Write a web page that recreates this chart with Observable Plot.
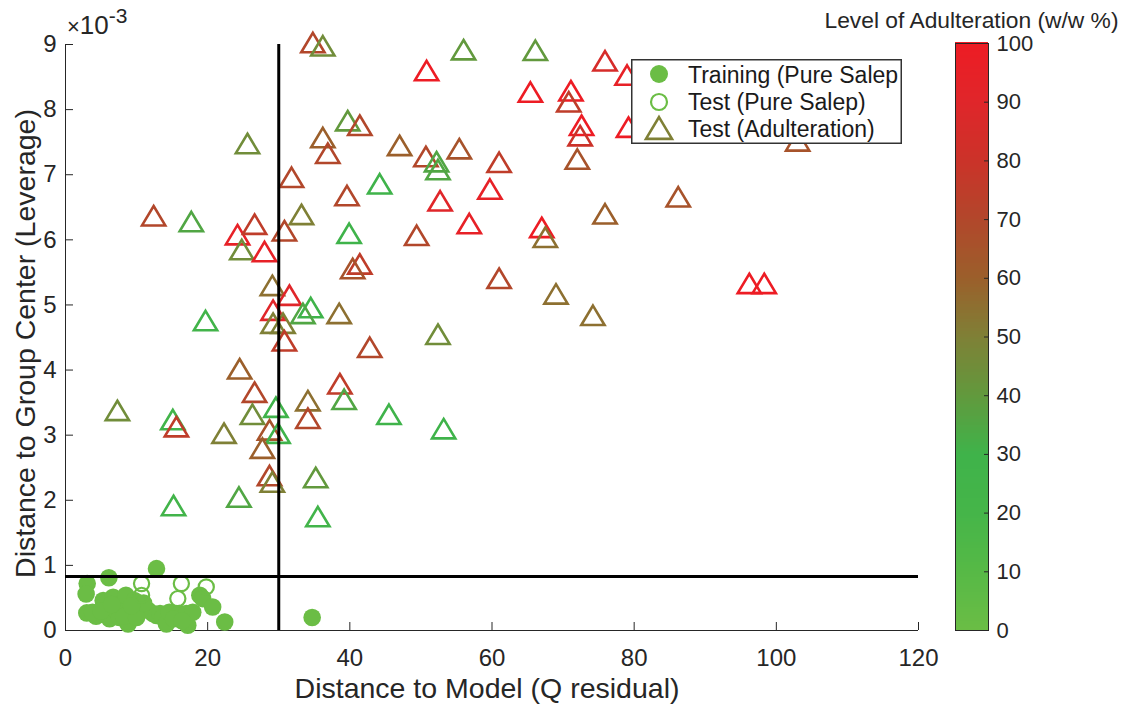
<!DOCTYPE html>
<html><head><meta charset="utf-8">
<script src="https://cdn.jsdelivr.net/npm/d3@7"></script>
<script src="https://cdn.jsdelivr.net/npm/@observablehq/plot@0.6"></script>
<style>
body{margin:0;background:#fff;}
#wrap{position:relative;width:1123px;height:704px;overflow:hidden;font-family:"Liberation Sans",Arial,Helvetica,sans-serif;color:#262626;background:#fff;}
#wrap svg{position:absolute;overflow:visible;}
.abs{position:absolute;white-space:nowrap;}
</style></head><body><div id="wrap"></div>
<script>
// ---- data ----
const xTicks = [0, 20, 40, 60, 80, 100, 120];
const yTicks = [0, 1, 2, 3, 4, 5, 6, 7, 8, 9];
const colorTicks = [0, 10, 20, 30, 40, 50, 60, 70, 80, 90, 100];
const colorStops = [0, 10, 20, 30, 40, 50, 60, 70, 80, 90, 100];
const colorStopColors = ["#6bbd45", "#56b946", "#45b549", "#3fb34a", "#62993d", "#7f8036", "#9b5f2b", "#b2472b", "#cb3229", "#e0262a", "#ed1c24"];
const qLimit = 30;
const leverageLimit = 0.83;

const trainX = [12.8,6.1,3.05,2.9,3.0,4.3,3.8,5.3,6.0,6.2,6.7,7.1,7.6,7.9,8.5,8.8,9.0,9.7,10.4,11.6,12.3,12.8,13.3,13.7,14.2,14.6,16.0,17.0,17.2,17.9,18.9,19.3,20.7,22.4,34.7,5.0,8.2,10.0,11.0,6.5,9.3,15.2,16.4];
const trainY = [0.95,0.81,0.72,0.56,0.27,0.22,0.28,0.46,0.33,0.18,0.51,0.31,0.20,0.41,0.54,0.10,0.26,0.46,0.36,0.31,0.26,0.23,0.26,0.20,0.10,0.28,0.26,0.26,0.08,0.28,0.54,0.49,0.36,0.13,0.20,0.30,0.22,0.20,0.42,0.40,0.38,0.18,0.15];

const testPureX = [10.7,10.7,16.3,15.8,19.8];
const testPureY = [0.72,0.54,0.72,0.49,0.67];

const adultX = [34.8,36.2,50.8,39.7,41.4,25.6,36.2,36.9,47.0,50.7, 52.2,52.4,55.4,31.8,44.2,39.6,52.7,12.4,17.7,24.2, 26.6,30.8,33.2,39.9,49.4,24.8,28.0,41.4,40.4,29.1, 31.5,29.2,34.5,33.4,38.5,19.7,30.6,29.2,52.4,30.8, 42.8,24.5,26.6,38.6,39.2,7.3,15.1,15.6,26.3,29.6, 34.1,34.1,45.5,53.2,22.3,28.7,29.9,27.7,28.7,29.1, 35.2,24.4,15.2,35.5,56.0,66.1,75.9,79.0,65.4,71.1, 70.8,72.6,72.4,79.2,103.0,61.0,72.0,59.7,86.2,56.8, 67.0,67.5,75.9,61.0,69.0,74.2,96.2,98.3];
const adultY = [9.03,8.98,8.60,7.83,7.76,7.48,7.57,7.33,7.45,7.28, 7.20,7.08,7.40,6.96,6.86,6.68,6.60,6.37,6.28,6.08, 6.24,6.14,6.39,6.10,6.07,5.85,5.82,5.63,5.56,5.30, 5.15,4.92,4.96,4.87,4.87,4.76,4.72,4.72,4.55,4.45, 4.35,4.02,3.66,3.79,3.55,3.38,3.24,3.13,3.32,3.43, 3.53,3.26,3.32,3.10,3.03,3.08,3.03,2.80,2.38,2.28, 2.35,2.05,1.92,1.75,8.92,8.91,8.75,8.53,8.27,8.29, 8.12,7.76,7.60,7.73,7.52,7.19,7.24,6.78,6.66,6.25, 6.19,6.04,6.40,5.41,5.17,4.84,5.33,5.33];
const adultLevel = [70,45,100,40,70,45,60,70,60,70, 35,35,65,70,30,70,90,70,35,95, 75,70,50,30,70,45,95,75,65,55, 90,90,30,35,55,25,50,50,45,75, 70,60,70,75,35,45,25,75,45,30, 55,70,30,30,50,65,30,60,70,50, 40,35,25,25,40,40,85,95,100,100, 75,100,80,100,65,75,65,95,65,95, 100,55,60,70,55,55,100,100];

const legendLabels = ["Training (Pure Salep", "Test (Pure Salep)", "Test (Adulteration)"];
const xLabel = "Distance to Model (Q residual)";
const yLabel = "Distance to Group Center (Leverage)";
const colorLabel = "Level of Adulteration (w/w %)";

// ---- build ----
const train = trainX.map((x, i) => ({x, y: trainY[i], level: 0}));
const testPure = testPureX.map((x, i) => ({x, y: testPureY[i], level: 0}));
const adult = adultX.map((x, i) => ({x, y: adultY[i], level: adultLevel[i]}));

const colorOpts = {type: "linear", domain: colorStops, range: colorStopColors, interpolate: "rgb"};
const colorScale = Plot.scale({color: colorOpts});

const tri = {draw(ctx, size) {
  const r = Math.sqrt(size / Math.PI), w = r * 1.4, h = r * 1.17;
  ctx.moveTo(0, -h); ctx.lineTo(w, h); ctx.lineTo(-w, h); ctx.closePath();
}};

const FONT = '"Liberation Sans", Arial, Helvetica, sans-serif';
const wrap = document.getElementById("wrap");

const main = Plot.plot({
  width: 1123, height: 704,
  marginLeft: 65, marginRight: 205, marginTop: 44, marginBottom: 74,
  style: {fontFamily: FONT, fontSize: "24px", color: "#262626", background: "transparent"},
  x: {domain: [0, 120]},
  y: {domain: [0, 9]},
  color: colorOpts,
  marks: [
    Plot.ruleX([0], {stroke: "#262626", strokeWidth: 1}),
    Plot.ruleY([0], {stroke: "#262626", strokeWidth: 1}),
    Plot.axisX({ticks: xTicks, tickSize: -8, tickPadding: 26, fontSize: 24, label: null, stroke: "#262626", fill: "#262626"}),
    Plot.axisY({ticks: yTicks, tickSize: -8, tickPadding: 17, fontSize: 24, label: null, stroke: "#262626", fill: "#262626"}),
    Plot.dot(train, {x: "x", y: "y", r: 8.8, fill: "level", stroke: null}),
    Plot.dot(testPure, {x: "x", y: "y", r: 7.6, fill: "none", stroke: "level", strokeWidth: 2.2}),
    Plot.dot(adult, {x: "x", y: "y", r: 8.3, fill: "none", stroke: "level", strokeWidth: 2.6, symbol: tri}),
    Plot.ruleX([qLimit], {y1: 0, y2: 9, stroke: "black", strokeWidth: 3}),
    Plot.ruleY([leverageLimit], {x1: 0, x2: 120, stroke: "black", strokeWidth: 3}),
    Plot.text([xLabel], {frameAnchor: "bottom", textAnchor: "middle", dy: 58, dx: -5, fontSize: 28.5, lineAnchor: "middle", fill: "#262626"}),
    Plot.text([yLabel], {frameAnchor: "left", textAnchor: "middle", rotate: -90, dx: -40, dy: 6, fontSize: 28.5, lineAnchor: "middle", fill: "#262626"})
  ]
});
main.style.left = "0px"; main.style.top = "0px";
wrap.appendChild(main);

// exponent label
const expo = document.createElement("div");
expo.className = "abs";
expo.style.cssText = "left:67px;top:12px;font-size:26px;line-height:26px;";
expo.innerHTML = '<span style="font-size:22px">×</span>10<span style="position:relative;top:-11px;font-size:21px">-3</span>';
wrap.appendChild(expo);

// colorbar
const cbLevels = d3.range(0, 100, 0.5);
const cb = Plot.plot({
  width: 173, height: 704,
  marginLeft: 5, marginRight: 135, marginTop: 43, marginBottom: 74,
  style: {fontFamily: FONT, fontSize: "22px", color: "#262626", background: "transparent"},
  x: {domain: [0, 1], axis: null},
  y: {domain: [0, 100]},
  color: colorOpts,
  marks: [
    Plot.rect(cbLevels, {x1: 0, x2: 1, y1: d => d, y2: d => d + 0.6, fill: d => d + 0.25, shapeRendering: "crispEdges"}),
    Plot.frame({stroke: "#262626", strokeWidth: 1}),
    Plot.axisY({anchor: "right", ticks: colorTicks, tickSize: -5, tickPadding: 13, fontSize: 22, label: null, stroke: "#262626", fill: "#262626"})
  ]
});
cb.style.left = "950px"; cb.style.top = "0px";
wrap.appendChild(cb);

const cbTitle = document.createElement("div");
cbTitle.className = "abs";
cbTitle.style.cssText = "left:771.5px;width:400px;text-align:center;top:10px;font-size:22.8px;line-height:20px;";
cbTitle.textContent = colorLabel;
wrap.appendChild(cbTitle);

// legend
const lg = d3.select(wrap).append("svg")
  .attr("width", 271).attr("height", 85)
  .style("left", "631px").style("top", "59px")
  .style("font-family", FONT);
lg.append("rect").attr("x", 0.75).attr("y", 0.75).attr("width", 269.5).attr("height", 83.5)
  .attr("fill", "white").attr("stroke", "#333").attr("stroke-width", 1.5);
const rowsY = [15, 43, 69];
lg.append("circle").attr("cx", 28).attr("cy", rowsY[0]).attr("r", 9).attr("fill", colorScale.apply(0));
lg.append("circle").attr("cx", 28).attr("cy", rowsY[1]).attr("r", 8).attr("fill", "none").attr("stroke", colorScale.apply(0)).attr("stroke-width", 2.2);
{
  const p = d3.path(); tri.draw(p, Math.PI * 9.3 * 9.3);
  lg.append("path").attr("d", p.toString()).attr("transform", `translate(28,${rowsY[2]})`)
    .attr("fill", "none").attr("stroke", colorScale.apply(50)).attr("stroke-width", 2.6);
}
legendLabels.forEach((t, i) => {
  lg.append("text").attr("x", 57).attr("y", [24, 51, 78][i]).attr("font-size", 23).attr("fill", "#1a1a1a").text(t);
});
</script></body></html>
